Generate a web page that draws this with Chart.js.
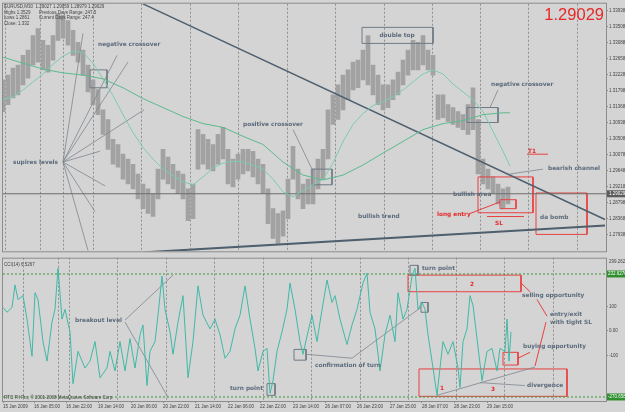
<!DOCTYPE html>
<html lang="en">
<head>
<meta charset="UTF-8">
<title>EURUSD,M30 with CCI(14)</title>
<script src="https://cdn.jsdelivr.net/npm/chart.js@4.4.1/dist/chart.umd.min.js"></script>
<style>
  body { margin: 0; background: #d4d4d4; }
  #wrap { position: relative; width: 625px; height: 412px; overflow: hidden; }
  #wrap canvas { position: absolute; left: 0; }
</style>
</head>
<body>
<div id="wrap">
  <canvas id="priceChart" width="625" height="255" style="top:0"></canvas>
  <canvas id="cciChart" width="625" height="158" style="top:254px"></canvas>
</div>
<script>
// x values are M30 bar offsets from the first bar on screen

// price bars (sampled every 5 bars: low / high)
const barX = [0,5,10,15,20,25,30,35,40,45,50,55,60,65,70,75,80,85,90,95,
  100,105,110,115,120,125,130,135,140,145,150,155,160,165,170,175,180,185,190,195,
  200,205,210,215,220,225,230,235,240,245,250,255,260,265,270,275,280,285,290,295,
  300,305,310,315,320,325,330,335,340,345,350,355,360,365,370,375,380,385,390,395,
  400,405,410,415,420,425,430,435,440,445,450,455,460,465,470,475,480,485,490,495,
  500,505];
const barLow = [1.3123,1.3142,1.3160,1.3168,1.3195,1.3213,1.3248,1.3256,1.3235,1.3229,
  1.3261,1.3314,1.3320,1.3301,1.3274,1.3256,1.3221,1.3176,1.3142,1.3115,
  1.3062,1.3022,1.2982,1.2974,1.2942,1.2929,1.2916,1.2889,1.2863,1.2850,
  1.2842,1.2889,1.2942,1.2929,1.2916,1.2903,1.2889,1.2831,1.2836,1.2969,
  1.2982,1.2969,1.2964,1.2982,1.2996,1.2929,1.2921,1.2942,1.2956,1.2964,
  1.2948,1.2929,1.2903,1.2823,1.2783,1.2770,1.2789,1.2836,1.2942,1.2889,
  1.2863,1.2876,1.2876,1.2916,1.2942,1.2996,1.3089,1.3102,1.3128,1.3155,
  1.3181,1.3187,1.3208,1.3195,1.3168,1.3142,1.3128,1.3134,1.3155,1.3168,
  1.3195,1.3221,1.3235,1.3235,1.3248,1.3235,1.3221,1.3102,1.3107,1.3097,
  1.3089,1.3081,1.3075,1.3062,1.3075,1.2956,1.2929,1.2916,1.2903,1.2876,
  1.2863,1.2876];
const barHigh = [1.3208,1.3221,1.3240,1.3248,1.3274,1.3288,1.3327,1.3346,1.3314,1.3301,
  1.3327,1.3386,1.3381,1.3367,1.3341,1.3309,1.3288,1.3248,1.3208,1.3182,
  1.3128,1.3102,1.3049,1.3035,1.3009,1.2996,1.2982,1.2956,1.2929,1.2916,
  1.2903,1.2969,1.3022,1.3001,1.2982,1.2964,1.2956,1.2916,1.2929,1.3075,
  1.3062,1.3049,1.3035,1.3062,1.3081,1.3022,1.2996,1.3009,1.3022,1.3022,
  1.3017,1.2996,1.2982,1.2916,1.2863,1.2850,1.2857,1.2942,1.3030,1.2969,
  1.2929,1.2942,1.2969,1.2996,1.3022,1.3128,1.3168,1.3195,1.3221,1.3235,
  1.3256,1.3261,1.3288,1.3327,1.3248,1.3221,1.3195,1.3195,1.3208,1.3229,
  1.3261,1.3288,1.3314,1.3309,1.3327,1.3288,1.3274,1.3168,1.3168,1.3142,
  1.3134,1.3123,1.3115,1.3142,1.3187,1.3102,1.2996,1.2969,1.2948,1.2929,
  1.2916,1.2921];

// moving averages
const slowX = [0,20,40,60,80,100,120,140,160,180,200,220,240,260,280,300,320,340,360,380,400,420,440,460,480,500,507];
const slowMA = [1.3269,1.3253,1.3237,1.3227,1.3221,1.3211,1.3187,1.3158,1.3134,1.3110,1.3091,1.3081,1.3057,1.3035,
  1.2988,1.2953,1.2940,1.2953,1.2980,1.3012,1.3043,1.3075,1.3091,1.3099,1.3115,1.3120,1.3120];
const fastX = [0,10,20,30,40,50,60,70,80,90,100,110,120,130,140,150,160,170,180,190,200,210,220,230,240,250,
  260,270,280,290,300,310,320,330,340,350,360,370,380,390,400,410,420,430,440,450,460,470,480,490,500,507];
const fastMA = [1.3155,1.3163,1.3181,1.3203,1.3224,1.3250,1.3272,1.3285,1.3282,1.3253,1.3211,1.3166,1.3115,1.3067,
  1.3027,1.2996,1.2969,1.2951,1.2935,1.2927,1.2948,1.2972,1.2985,1.2990,1.2988,1.2980,1.2969,1.2942,1.2908,
  1.2895,1.2911,1.2927,1.2942,1.2985,1.3043,1.3089,1.3118,1.3139,1.3150,1.3163,1.3181,1.3203,1.3224,1.3235,
  1.3224,1.3197,1.3176,1.3155,1.3123,1.3070,1.3017,1.2977];

// CCI(14)
const cciX = [0,4,9,12,15,20,24,29,32,35,40,44,49,52,55,59,62,67,70,75,82,87,92,97,104,107,112,117,122,127,
  132,137,140,144,147,152,155,159,162,167,170,175,180,185,190,195,200,207,212,217,222,227,232,237,242,247,
  252,255,260,264,267,270,274,279,284,287,292,297,300,305,309,314,317,324,329,332,337,344,349,354,360,364,
  367,372,377,382,387,392,395,400,404,409,412,415,419,422,425,429,434,437,440,445,450,455,457,460,464,467,
  470,474,479,484,489,494,497,502,504,506,508];
const cci = [96,76,96,188,128,144,48,-104,156,128,-44,-124,36,88,256,48,88,-4,-216,-84,-152,-124,-44,-192,-152,
  -84,-164,-44,-164,-32,-152,-16,24,-224,-84,-44,64,224,88,-4,-96,36,144,-192,-44,184,64,8,48,-16,-112,-84,8,
  64,184,48,-72,-164,-84,-72,-256,-204,-84,-4,88,196,88,-44,-96,-4,64,-44,36,208,116,144,48,-56,24,88,196,
  236,76,8,-164,-16,64,-44,156,48,88,224,256,88,116,88,-16,-124,-264,-152,-44,-96,-44,-152,-232,-44,8,144,
  104,-32,-204,-84,-72,-164,-72,-84,48,-124,-4];
const cciLevels = [232.6270, -270.6585];

const lastPrice = 1.29029;
const priceTicks = [1.27938,1.28368,1.28798,1.29218,1.29648,1.30078,1.30508,1.30938,1.31368,1.31798,
  1.32228,1.32658,1.33088,1.33508,1.33938];
const cciTicks = [100, 0, -100];
const gridX = [20,55,66,114,163,211,260,308,357,405,453,501,550];
const dateX = [0,31,63,95,128,160,192,225,257,290,322,354,387,419,451,484];
const dateLabels = ['15 Jan 2009','16 Jan 05:00','16 Jan 22:00','19 Jan 14:00','20 Jan 06:00','20 Jan 22:00',
  '21 Jan 14:00','22 Jan 06:00','22 Jan 22:00','23 Jan 14:00','26 Jan 07:00','26 Jan 23:00','27 Jan 15:00',
  '28 Jan 07:00','28 Jan 23:00','29 Jan 15:00'];

// hand-drawn objects, in chart values
const priceDrawings = [
  {k:'trend', a:[140,1.3412], b:[602,1.2834]},
  {k:'trend', a:[142,1.2746], b:[602,1.2818], w:2},
  {k:'bid', a:[0,lastPrice], b:[603,lastPrice]},
  {k:'thin', a:[60,1.2988], b:[80,1.3333]},
  {k:'thin', a:[60,1.2988], b:[114,1.3274]},
  {k:'thin', a:[60,1.2988], b:[125,1.3256]},
  {k:'thin', a:[60,1.2988], b:[141,1.3128]},
  {k:'thin', a:[60,1.2988], b:[97,1.3017]},
  {k:'thin', a:[60,1.2988], b:[102,1.2924]},
  {k:'thin', a:[60,1.2988], b:[92,1.2855]},
  {k:'thin', a:[60,1.2988], b:[85,1.2751]},
  {k:'thin', a:[487,1.3134], b:[495,1.3181]},
  {k:'thin', a:[290,1.3075], b:[309,1.2969]},
  {k:'thin', a:[507,1.2956], b:[540,1.2969]},
  {k:'box', a:[87,1.3235], b:[104,1.3187]},
  {k:'box', a:[359,1.3349], b:[430,1.3306]},
  {k:'box', a:[464,1.3134], b:[495,1.3094]},
  {k:'box', a:[309,1.2969], b:[329,1.2927]},
  {k:'redbox', a:[475,1.2948], b:[530,1.2852]},
  {k:'redbox', a:[497,1.2887], b:[513,1.2863]},
  {k:'redbox', a:[533,1.2905], b:[584,1.2794]},
  {k:'red', a:[524,1.3009], b:[545,1.3009]},
  {k:'red', a:[467,1.2850], b:[497,1.2881]},
  {k:'red', a:[484,1.2842], b:[521,1.2842]}
];
const priceNotes = [
  {x:95, y:1.3304, text:'negative crossover'},
  {x:394, y:1.3327, text:'double top', align:'center'},
  {x:488, y:1.3195, text:'negative crossover'},
  {x:240, y:1.3089, text:'positive crossover'},
  {x:10, y:1.2988, text:'supires levels'},
  {x:545, y:1.2972, text:'bearish channel'},
  {x:450, y:1.2900, text:'bullish area'},
  {x:537, y:1.2839, text:'da bomb'},
  {x:355, y:1.2842, text:'bullish trend'},
  {x:434, y:1.2847, text:'long entry', red:true},
  {x:496, y:1.2823, text:'SL', red:true, align:'center'},
  {x:525, y:1.3017, text:'T1', red:true}
];
const cciDrawings = [
  {k:'thin', a:[122,44], b:[170,228]},
  {k:'thin', a:[122,36], b:[165,-272]},
  {k:'thin', a:[303,-96], b:[349,-112]},
  {k:'thin', a:[349,-112], b:[418,96]},
  {k:'thin', a:[434,-264], b:[532,-148]},
  {k:'thin', a:[522,-224], b:[477,-212]},
  {k:'box', a:[264,-216], b:[272,-264]},
  {k:'box', a:[291,-76], b:[303,-120]},
  {k:'box', a:[418,116], b:[425,76]},
  {k:'box', a:[407,268], b:[415,228]},
  {k:'redbox', a:[405,228], b:[518,160]},
  {k:'redbox', a:[500,-88], b:[515,-140]},
  {k:'redbox', a:[416,-156], b:[564,-268]},
  {k:'red', a:[518,196], b:[527,160]},
  {k:'red', a:[544,60], b:[534,128]},
  {k:'red', a:[543,36], b:[532,-144]},
  {k:'red', a:[515,-112], b:[527,-88]}
];
const cciNotes = [
  {x:72, y:44, text:'breakout level'},
  {x:227, y:-236, text:'turn point'},
  {x:312, y:-140, text:'confirmation of turn'},
  {x:419, y:256, text:'turn point'},
  {x:519, y:144, text:'selling opportunity'},
  {x:547, y:68, text:'entry/exit'},
  {x:547, y:36, text:'with tight SL'},
  {x:520, y:-64, text:'buying opportunity'},
  {x:524, y:-224, text:'divergence'},
  {x:469, y:188, text:'2', red:true, align:'center'},
  {x:439, y:-236, text:'1', red:true, align:'center'},
  {x:490, y:-240, text:'3', red:true, align:'center'}
];

const BG = '#d4d4d4';
const FRAME = '#8c8c8c';
const GRID = '#8f8f8f';
const NOTE = '#5b6b7b';
const RED = '#e62828';
const AXIS_FONT = {family: 'Liberation Sans', size: 4.5};

const drawStyles = {
  trend: {color: '#4e5f6e', width: 1.5},
  bid: {color: '#6c6c6c', width: 1},
  thin: {color: '#7d878f', width: 0.8},
  box: {color: '#6e7a84', width: 1},
  redbox: {color: '#e84040', width: 1},
  red: {color: '#e84040', width: 1}
};

function series(xs, ys, color, width, dash) {
  return {
    type: 'line',
    data: xs.map((x, i) => ({x: x, y: ys[i]})),
    borderColor: color,
    borderWidth: width,
    borderDash: dash || [],
    pointRadius: 0,
    fill: false,
    tension: 0,
    order: 1
  };
}

function drawingSets(list) {
  return list.map(d => {
    const st = drawStyles[d.k];
    const w = d.w || st.width;
    if (d.k === 'box' || d.k === 'redbox') {
      return series([d.a[0], d.b[0], d.b[0], d.a[0], d.a[0]], [d.a[1], d.a[1], d.b[1], d.b[1], d.a[1]], st.color, w);
    }
    return series([d.a[0], d.b[0]], [d.a[1], d.b[1]], st.color, w);
  });
}

function writeNotes(chart, notes) {
  const ctx = chart.ctx, xs = chart.scales.x, ys = chart.scales.y;
  ctx.save();
  ctx.textBaseline = 'middle';
  notes.forEach(n => {
    ctx.font = 'bold 5.8px "DejaVu Sans"';
    ctx.fillStyle = n.red ? RED : NOTE;
    ctx.textAlign = n.align || 'left';
    ctx.fillText(n.text, xs.getPixelForValue(n.x), ys.getPixelForValue(n.y));
  });
  ctx.restore();
}

function frame(chart, topInset) {
  const ctx = chart.ctx, a = chart.chartArea;
  ctx.save();
  ctx.strokeStyle = FRAME;
  ctx.lineWidth = 1;
  ctx.strokeRect(a.left - 0.5, a.top + topInset, a.right - a.left + 1, a.bottom - a.top - topInset + 0.5);
  ctx.restore();
}

const background = {
  id: 'background',
  beforeDraw(chart) {
    const ctx = chart.ctx;
    ctx.save();
    ctx.fillStyle = BG;
    ctx.fillRect(0, 0, chart.width, chart.height);
    ctx.restore();
  }
};

const priceDecor = {
  id: 'priceDecor',
  afterDraw(chart) {
    const ctx = chart.ctx, a = chart.chartArea;
    frame(chart, -0.5);
    writeNotes(chart, priceNotes);
    ctx.save();
    // header lines
    ctx.font = '4.5px "Liberation Sans"';
    ctx.fillStyle = '#444';
    ctx.textBaseline = 'middle';
    ctx.textAlign = 'left';
    ctx.fillText('EURUSD,M30  1.29027 1.29059 1.28979 1.29029', a.left + 1, a.top + 3);
    ctx.fillText('Highs 1.3529', a.left + 1, a.top + 9);
    ctx.fillText('Lows 1.2861', a.left + 1, a.top + 14);
    ctx.fillText('Close: 1.332', a.left + 1, a.top + 20);
    ctx.fillText('Previous Days Range: 247.5', a.left + 36, a.top + 9);
    ctx.fillText('Current Days Range: 247.4', a.left + 36, a.top + 14);
    // big bid
    ctx.font = '16.5px "Liberation Sans"';
    ctx.fillStyle = RED;
    ctx.textAlign = 'right';
    ctx.fillText(lastPrice.toFixed(5), a.right - 2, a.top + 12);
    // bid label on the axis
    const y = chart.scales.y.getPixelForValue(lastPrice);
    ctx.fillStyle = '#5c5c5c';
    ctx.fillRect(a.right + 1, y - 3.5, 19, 7);
    ctx.fillStyle = '#ffffff';
    ctx.font = '4.5px "Liberation Sans"';
    ctx.textAlign = 'left';
    ctx.fillText(lastPrice.toFixed(5), a.right + 3, y);
    ctx.restore();
  }
};

const cciDecor = {
  id: 'cciDecor',
  afterDraw(chart) {
    const ctx = chart.ctx, a = chart.chartArea, ys = chart.scales.y;
    frame(chart, 0.5);
    writeNotes(chart, cciNotes);
    ctx.save();
    ctx.font = '4.5px "Liberation Sans"';
    ctx.textBaseline = 'middle';
    ctx.textAlign = 'left';
    ctx.fillStyle = '#444';
    ctx.fillText('CCI(14) 6.5267', a.left + 1, a.top + 7);
    ctx.fillText('RTC FII Pro, \u00a9 2001-2008 MetaQuotes Software Corp.', a.left + 1, a.bottom - 3);
    ctx.fillText(ys.max.toFixed(4), a.right + 3, a.top + 4);
    ctx.fillText(ys.min.toFixed(4), a.right + 3, a.bottom - 2);
    cciLevels.forEach(v => {
      const y = ys.getPixelForValue(v);
      ctx.fillStyle = '#2f8f2f';
      ctx.fillRect(a.right + 1, y - 3.5, 19, 7);
      ctx.fillStyle = '#ffffff';
      ctx.fillText(v.toFixed(4), a.right + 2, y);
    });
    ctx.restore();
  }
};

function gridAxis() {
  return {
    type: 'linear', min: 0, max: 603, offset: false,
    grid: {color: GRID, lineWidth: 1, drawTicks: false},
    border: {display: false, dash: [2, 2]},
    ticks: {display: false},
    afterBuildTicks: s => { s.ticks = gridX.map(v => ({value: v})); },
    afterFit: s => { s.height = 0; }
  };
}

const baseOptions = {
  responsive: false,
  animation: false,
  events: [],
  plugins: {legend: {display: false}, tooltip: {enabled: false}}
};

new Chart(document.getElementById('priceChart'), {
  type: 'line',
  data: {
    datasets: [
      {
        type: 'bar',
        data: barX.map((x, i) => ({x: x, y: [barLow[i], barHigh[i]]})),
        backgroundColor: '#a2a2a2',
        barThickness: 4,
        borderWidth: 0,
        order: 10
      },
      series(slowX, slowMA, '#5cba8e', 1),
      series(fastX, fastMA, '#7ccbae', 1),
      ...drawingSets(priceDrawings)
    ]
  },
  options: {
    ...baseOptions,
    layout: {padding: {left: 3, top: 3, right: 0, bottom: 2}},
    scales: {
      x: gridAxis(),
      y: {
        position: 'right', min: 1.27487, max: 1.34124,
        grid: {drawOnChartArea: false, drawTicks: true, tickLength: 2, color: FRAME},
        border: {display: false},
        ticks: {font: AXIS_FONT, color: '#444', padding: 1, callback: v => Number(v).toFixed(5)},
        afterBuildTicks: s => { s.ticks = priceTicks.map(v => ({value: v})); },
        afterFit: s => { s.width = 19; }
      }
    }
  },
  plugins: [background, priceDecor]
});

new Chart(document.getElementById('cciChart'), {
  type: 'line',
  data: {
    datasets: [
      series(cciX, cci, '#3fb9a6', 1),
      series([0, 603], [cciLevels[0], cciLevels[0]], '#3a9a3a', 1, [2, 2]),
      series([0, 603], [cciLevels[1], cciLevels[1]], '#3a9a3a', 1, [2, 2]),
      ...drawingSets(cciDrawings)
    ]
  },
  options: {
    ...baseOptions,
    layout: {padding: {left: 3, top: 0, right: 0, bottom: 0}},
    scales: {
      x: gridAxis(),
      xd: {
        type: 'linear', position: 'bottom', min: 0, max: 603, offset: false,
        grid: {drawOnChartArea: false, drawTicks: true, tickLength: 2, color: FRAME},
        border: {display: false},
        ticks: {
          font: AXIS_FONT, color: '#444', padding: 1, align: 'start',
          autoSkip: false, maxRotation: 0, minRotation: 0,
          callback: (v, i) => dateLabels[i]
        },
        afterBuildTicks: s => { s.ticks = dateX.map(v => ({value: v})); },
        afterFit: s => { s.height = 11; }
      },
      y: {
        position: 'right', min: -287.138, max: 299.2629,
        grid: {drawOnChartArea: false, drawTicks: true, tickLength: 2, color: FRAME},
        border: {display: false},
        ticks: {font: AXIS_FONT, color: '#444', padding: 1, callback: v => (v === 0 ? '0.00' : String(v))},
        afterBuildTicks: s => { s.ticks = cciTicks.map(v => ({value: v})); },
        afterFit: s => { s.width = 19; }
      }
    }
  },
  plugins: [background, cciDecor]
});
</script>
</body>
</html>
